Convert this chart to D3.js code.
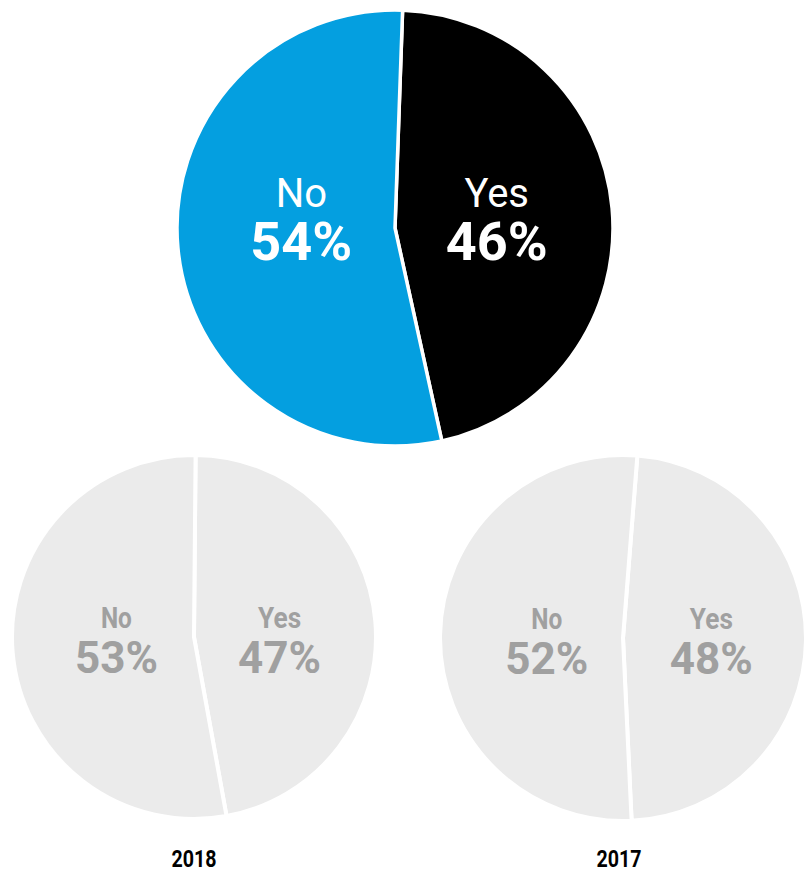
<!DOCTYPE html>
<html>
<head>
<meta charset="utf-8">
<script src="https://cdn.jsdelivr.net/npm/d3@7"></script>
<style>
  html, body { margin: 0; padding: 0; background: #fff; }
  svg { display: block; font-family: Roboto, "Noto Sans", sans-serif; }
</style>
</head>
<body>
<svg id="chart" width="806" height="873"></svg>
<script>
// Survey answers: current year plus two previous years
const categories = ["Yes", "No"];
const valuesCurrent = [46, 54];
const values2018 = [47, 53];
const values2017 = [48, 52];
const yearLabels = ["2018", "2017"];

const svg = d3.select("#chart");

const pies = [
  { values: valuesCurrent, cx: 395, cy: 228, r: 218, rot: 2, highlight: true, year: null, dx: 4 },
  { values: values2018, cx: 194, cy: 637, r: 182, rot: 0.5, highlight: false, year: yearLabels[0], yearX: 194, dx: 4 },
  { values: values2017, cx: 623, cy: 638, r: 183, rot: 4.5, highlight: false, year: yearLabels[1], yearX: 619, dx: 6 }
];

const colorMain = d3.scaleOrdinal().domain(categories).range(["#000000", "#049fe0"]);

pies.forEach(p => {
  const rot = p.rot * Math.PI / 180;
  const pie = d3.pie().sort(null).value(d => d.v)
    .startAngle(rot).endAngle(rot + 2 * Math.PI);
  const data = pie(categories.map((c, i) => ({ c, v: p.values[i] })));
  const arc = d3.arc().innerRadius(0).outerRadius(p.r);
  const g = svg.append("g").attr("transform", `translate(${p.cx},${p.cy})`);

  g.selectAll("path.slice").data(data).join("path")
    .attr("class", "slice")
    .attr("d", arc)
    .attr("fill", d => p.highlight ? colorMain(d.data.c) : "#ebebeb")
    .attr("stroke", "#fff")
    .attr("stroke-width", p.highlight ? 3.5 : 4)
    .attr("stroke-linejoin", "miter");

  const k = 0.45;
  const lab = g.selectAll("g.lab").data(data).join("g")
    .attr("class", "lab")
    .attr("transform", d => {
      const a = (d.startAngle + d.endAngle) / 2;
      return `translate(${Math.sin(a) * k * p.r + p.dx},0)`;
    });

  if (p.highlight) {
    lab.append("text")
      .attr("text-anchor", "middle")
      .attr("y", -21)
      .attr("fill", "#fff")
      .attr("font-size", 40)
      .attr("font-weight", 400)
      .text(d => d.data.c);
    lab.append("text")
      .attr("text-anchor", "middle")
      .attr("y", 32)
      .attr("fill", "#fff")
      .attr("font-size", 54)
      .attr("font-weight", 700)
      .text(d => d.data.v + "%");
  } else {
    lab.append("text")
      .attr("text-anchor", "middle")
      .attr("y", -9)
      .attr("fill", "#a0a0a0")
      .attr("font-size", 30)
      .attr("font-weight", 700)
      .attr("textLength", d => d.data.c === "Yes" ? 43 : 31)
      .attr("lengthAdjust", "spacingAndGlyphs")
      .text(d => d.data.c);
    lab.append("text")
      .attr("text-anchor", "middle")
      .attr("y", 36)
      .attr("fill", "#a0a0a0")
      .attr("font-size", 44)
      .attr("font-weight", 700)
      .text(d => d.data.v + "%");
  }

  if (p.year) {
    svg.append("text")
      .attr("x", p.yearX)
      .attr("y", 867)
      .attr("text-anchor", "middle")
      .attr("fill", "#000")
      .attr("font-size", 24)
      .attr("font-weight", 700)
      .attr("textLength", 45)
      .attr("lengthAdjust", "spacingAndGlyphs")
      .text(p.year);
  }
});
</script>
</body>
</html>
